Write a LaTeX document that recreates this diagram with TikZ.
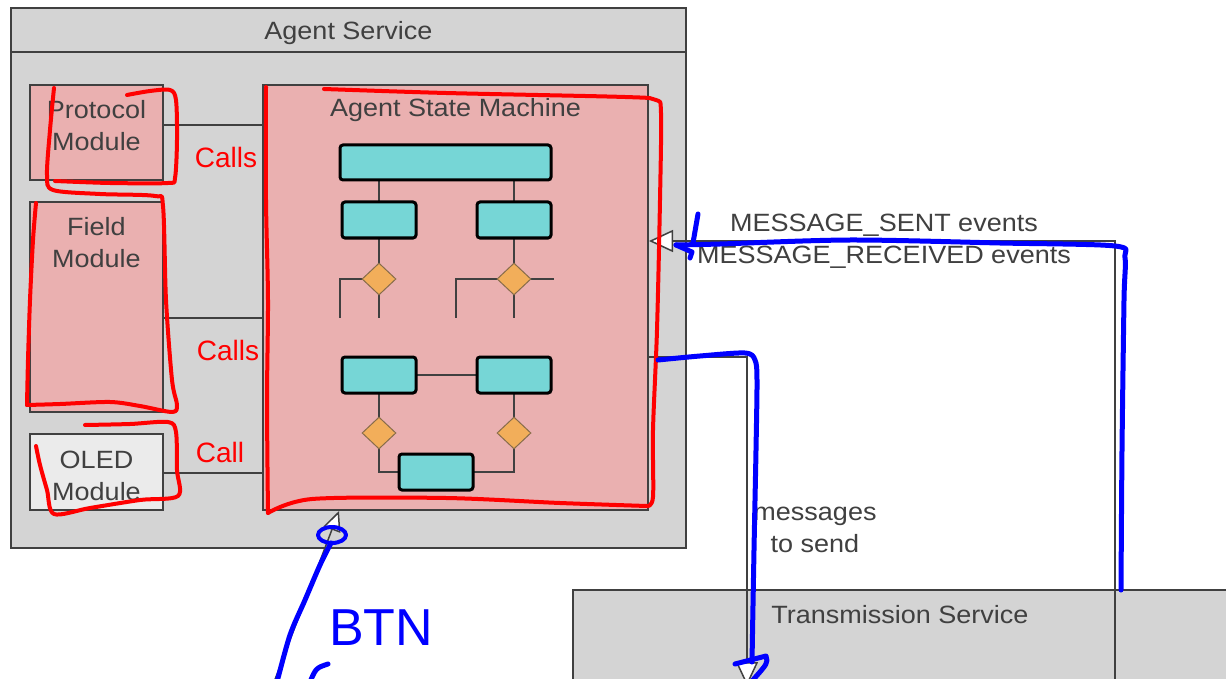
\documentclass[tikz,border=0pt]{standalone}
\usepackage{fontspec}
\setmainfont{Liberation Sans}[FakeStretch=1.08]
\newfontfamily\handfont{Liberation Sans}
\usetikzlibrary{arrows.meta,shapes.geometric,calc}

\definecolor{panelgray}{RGB}{212,212,212}
\definecolor{edgegray}{RGB}{64,64,64}
\definecolor{modpink}{RGB}{234,176,176}
\definecolor{oledgray}{RGB}{235,235,235}
\definecolor{statecyan}{RGB}{118,214,214}
\definecolor{choiceorange}{RGB}{242,174,90}
\definecolor{inkred}{RGB}{255,0,0}
\definecolor{inkblue}{RGB}{0,0,255}

\tikzset{
  box/.style={rectangle, draw=edgegray, line width=2pt, inner sep=0pt},
  lbl/.style={text=edgegray, font=\fontsize{25}{32}\selectfont, align=center, inner sep=0pt},
  statebox/.style={rectangle, draw=black, line width=3pt, fill=statecyan, rounded corners=3pt,
                   minimum width=74pt, minimum height=36pt, inner sep=0pt},
  choice/.style={diamond, draw=edgegray!60!choiceorange, line width=1pt, fill=choiceorange,
                 minimum width=34pt, minimum height=32pt, inner sep=0pt},
  wire/.style={draw=edgegray, line width=2pt},
  link/.style={draw=edgegray, line width=1.5pt},
  openarrow/.style={-{Triangle[length=24pt, width=22pt, fill=white]}},
  smallarrow/.style={-{Triangle[length=20pt, width=18pt, fill=white]}},
  redink/.style={draw=inkred, line width=4pt, line cap=round, line join=round},
  blueink/.style={draw=inkblue, line width=5pt, line cap=round, line join=round},
  redword/.style={text=inkred, font=\handfont\fontsize{28}{28}\selectfont, inner sep=0pt},
  blueword/.style={text=inkblue, font=\handfont\fontsize{52}{52}\selectfont, inner sep=0pt},
}

\begin{document}
\begin{tikzpicture}[x=1pt,y=-1pt]
\useasboundingbox (0,0) rectangle (1226,679);
\clip (0,0) rectangle (1226,679);
\fill[white] (0,0) rectangle (1226,679);

% ---------- Agent Service container ----------
\node[box, fill=panelgray, minimum width=675pt, minimum height=540pt] (agent) at (348.5,278) {};
\draw[wire] ($(agent.north west)+(0,45)$) -- ($(agent.north east)+(0,45)$);
\node[lbl] (agenttitle) at (348.5,33) {Agent Service};

% modules
\node[box, fill=modpink, minimum width=133pt, minimum height=95pt] (proto) at (96.5,132.5) {};
\node[lbl] (protolbl) at (96.5,126) {Protocol\\Module};
\node[box, fill=modpink, minimum width=133pt, minimum height=210pt] (field) at (96.5,307) {};
\node[lbl] (fieldlbl) at (96.5,243) {Field\\Module};
\node[box, fill=oledgray, minimum width=133pt, minimum height=76pt] (oled) at (96.5,472) {};
\node[lbl] (oledlbl) at (96.5,476) {OLED\\Module};

% state machine
\node[box, fill=modpink, minimum width=385pt, minimum height=425pt] (asm) at (455.5,297.5) {};
\node[lbl] (asmlbl) at (455.5,110) {Agent State Machine};

% module connectors
\coordinate (yproto) at (0,125);
\coordinate (yfield) at (0,318);
\coordinate (yoled) at (0,473);
\draw[link] (proto.east |- yproto) -- (asm.west |- yproto);
\draw[link] (field.east |- yfield) -- (asm.west |- yfield);
\draw[link] (oled.east |- yoled) -- (asm.west |- yoled);

% ---------- state machine glyph: wires first, then states on top ----------
\coordinate (c0) at (445.5,162.5);
\coordinate (c1) at (379,220);
\coordinate (c2) at (514,220);
\coordinate (c3) at (379,375);
\coordinate (c4) at (514,375);
\coordinate (c5) at (436,472);
\coordinate (e1) at (379,279);
\coordinate (e2) at (514,279);
\coordinate (e3) at (379,433);
\coordinate (e4) at (514,433);
\coordinate (d1out) at (340,318);
\coordinate (d2out) at (456,318);
\coordinate (d2end) at (554,279);
\coordinate (yfork) at (0,318);

\draw[wire] (c1) -- (c1 |- c0);
\draw[wire] (c2) -- (c2 |- c0);
\draw[wire] (c1) -- (e1) -- (e1 |- yfork);
\draw[wire] (c2) -- (e2) -- (e2 |- yfork);
\draw[wire] (e1) -| (d1out);
\draw[wire] (e2) -| (d2out);
\draw[wire] (e2) -- (d2end);
\draw[wire] (c3) -- (c4);
\draw[wire] (c3) -- (e3) |- (c5);
\draw[wire] (c4) -- (e4) |- (c5);

\node[statebox, minimum width=211pt, minimum height=35pt] (s0) at (c0) {};
\node[statebox] (s1) at (c1) {};
\node[statebox] (s2) at (c2) {};
\node[statebox] (s3) at (c3) {};
\node[statebox] (s4) at (c4) {};
\node[statebox] (s5) at (c5) {};
\node[choice] (d1) at (e1) {};
\node[choice] (d2) at (e2) {};
\node[choice] (d3) at (e3) {};
\node[choice] (d4) at (e4) {};

% ---------- Transmission Service ----------
\node[box, fill=panelgray, minimum width=700pt, minimum height=130pt, anchor=north west] (trans) at (572,589) {};
\node[lbl] (translbl) at (900,615) {Transmission Service};
\coordinate (divtop) at (1115,589);
\coordinate (divbot) at (1115,690);
\draw[link] (divtop) -- (divbot);

% ---------- message flows ----------
\coordinate (yevt) at (0,241);
\coordinate (ysend) at (0,357);
\coordinate (sendtip) at (747,686);
\draw[link, openarrow] (divtop) |- (asm.east |- yevt);
\draw[link, openarrow] (asm.east |- ysend) -| (sendtip);
\node[lbl] (sentlbl) at (884,225) {MESSAGE\_SENT events};
\node[lbl] (recvlbl) at (884,257) {MESSAGE\_RECEIVED events};
\node[lbl] (sendlbl) at (815,530) {messages\\to send};

% button input into the state machine
\coordinate (btnsrc) at (271,690);
\coordinate (btntip) at ($(asm.south west)+(77,0)$);
\draw[link, smallarrow] (btnsrc) -- (btntip);

% ---------- red pen marks ----------
\draw[redink] plot[smooth] coordinates {(127,95) (150,91) (170,90) (176,100) (177,140) (175,178) (168,183) (110,183) (55,181)};
\draw[redink] plot[smooth] coordinates {(54,88) (50,130) (47,175) (53,190) (100,194) (155,196) (163,206) (166,300) (172,380) (177,405) (172,412) (140,406) (110,402) (60,404) (27,405)};
\draw[redink] plot[smooth] coordinates {(27,405) (28,360) (30,300) (33,240) (36,203)};
\draw[redink] plot[smooth] coordinates {(85,425) (130,424) (168,422) (176,432) (177,470) (178,496) (140,500) (90,508) (54,514) (47,490) (40,465) (36,446)};
\draw[redink] plot[smooth] coordinates {(324,89) (446,93) (625,97) (656,100) (661,113) (660,200) (657,330) (653,430) (653,497) (647,506)};
\draw[redink] plot[smooth] coordinates {(647,506) (560,503) (446,498) (312,499) (268,513)};
\draw[redink] plot[smooth] coordinates {(268,513) (267,400) (268,300) (266,200) (266,87)};
\node[redword] (call1) at (226,157) {Calls};
\node[redword] (call2) at (228,350) {Calls};
\node[redword] (call3) at (220,452) {Call};

% ---------- blue pen marks ----------
\draw[blueink] plot[smooth] coordinates {(1121,590) (1122,450) (1124,300) (1125,258) (1115,246) (1000,243) (850,240) (720,244) (676,245)};
\draw[blueink] (698,214) -- (693,243);
\draw[blueink] (676,245) -- (692,252) -- (690,258);
\draw[blueink] plot[smooth] coordinates {(658,360) (700,356) (745,353) (755,360) (757,380) (756,450) (754,550) (752,662)};
\draw[blueink] (735,664) -- (766,656) .. controls (768,663) .. (752,681);
\draw[blueink, line width=4pt] (332,535) ellipse [x radius=14, y radius=8];
\draw[blueink] plot[smooth] coordinates {(331,543) (320,565) (305,600) (290,635) (277,682)};
\node[blueword] (btn) at (381,628) {BTN};
\draw[blueink] (328,664) .. controls (316,668) .. (310,682);
\end{tikzpicture}
\end{document}
